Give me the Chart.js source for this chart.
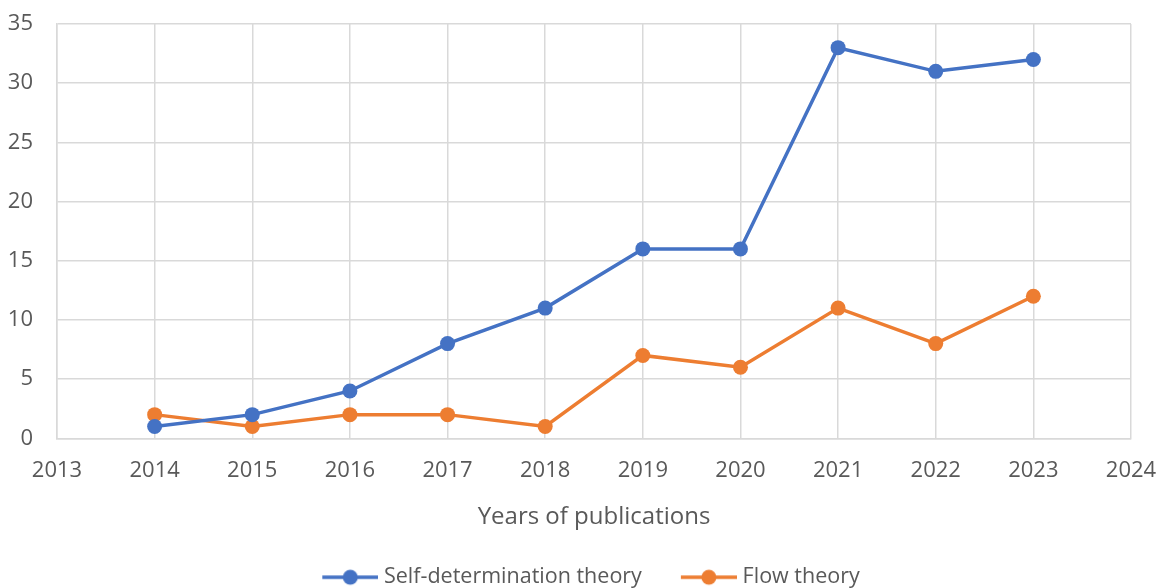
<!DOCTYPE html>
<html>
<head>
<meta charset="utf-8">
<script src="https://cdn.jsdelivr.net/npm/chart.js@4"></script>
<style>
  html, body { margin: 0; padding: 0; background: #fff; }
  #wrap { width: 1156px; height: 588px; position: relative; }
</style>
</head>
<body>
<div id="wrap"><canvas id="c"></canvas></div>
<script>
// Publications per year, two theories.
const YEARS = [2014, 2015, 2016, 2017, 2018, 2019, 2020, 2021, 2022, 2023];
const SDT = [1, 2, 4, 8, 11, 16, 16, 33, 31, 32];
const FLOW = [2, 1, 2, 2, 1, 7, 6, 11, 8, 12];
const X_MIN = 2013, X_MAX = 2024;
const Y_MAX = 35;

const BLUE = "#4472c4";
const ORANGE = "#ed7d31";
const GRID = "#d9d9d9";
const TEXT = "#595959";
const FONT = "'Open Sans', sans-serif";

// legend marker: blank gap on the left, then a short line with a dot.
// The image is a bit wider than its legend box so the line runs closer to the text.
const GAP = 33, LINE = 56, OVER = 10;
function marker(color) {
  const c = document.createElement("canvas");
  c.width = GAP + LINE + OVER; c.height = 18;
  const g = c.getContext("2d");
  const x0 = GAP + OVER;
  g.strokeStyle = color; g.lineWidth = 3.5;
  g.beginPath(); g.moveTo(x0, 9); g.lineTo(x0 + LINE, 9); g.stroke();
  g.fillStyle = color;
  g.beginPath(); g.arc(x0 + LINE / 2, 9, 7.5, 0, Math.PI * 2); g.fill();
  return c;
}

const series = (label, vals, color) => ({
  label,
  data: YEARS.map((x, i) => ({ x, y: vals[i] })),
  borderColor: color,
  backgroundColor: color,
  borderWidth: 3.5,
  pointRadius: 7.5,
  pointHoverRadius: 7.5,
  pointBorderWidth: 0,
  pointStyle: "circle",
  tension: 0,
});

new Chart(document.getElementById("c"), {
  type: "line",
  data: {
    datasets: [
      series("Self-determination theory", SDT, BLUE),
      series("Flow theory", FLOW, ORANGE),
    ],
  },
  options: {
    responsive: true,
    maintainAspectRatio: false,
    animation: false,
    layout: { padding: { left: 0, right: 12, top: 0, bottom: -10 } },
    plugins: {
      tooltip: { enabled: false },
      legend: {
        position: "bottom",
        labels: {
          color: TEXT,
          font: { family: FONT, size: 21.5 },
          usePointStyle: true,
          pointStyleWidth: GAP + LINE,
          boxHeight: 18,
          padding: 1,
          generateLabels: (chart) => chart.data.datasets.map((d, i) => ({
            text: d.label,
            fontColor: TEXT,
            pointStyle: marker(d.borderColor),
            datasetIndex: i,
            lineWidth: 0,
          })),
        },
      },
    },
    scales: {
      x: {
        type: "linear",
        min: X_MIN,
        max: X_MAX,
        afterFit: (s) => { s.paddingRight = 25; },
        ticks: { stepSize: 1, color: TEXT, font: { family: FONT, size: 22 }, callback: (v) => String(v), padding: 19 },
        grid: { color: GRID, lineWidth: 1.5, drawTicks: false },
        border: { color: GRID, width: 1.5 },
        title: { display: true, text: "Years of publications", color: TEXT, font: { family: FONT, size: 24 }, padding: { top: 0, bottom: 34 } },
      },
      y: {
        min: 0,
        max: Y_MAX,
        afterFit: (s) => { s.width = 57; s.paddingTop = 24; },
        ticks: { stepSize: 5, color: TEXT, font: { family: FONT, size: 22 }, padding: 24 },
        grid: { color: GRID, lineWidth: 1.5, drawTicks: false },
        border: { color: GRID, width: 1.5 },
      },
    },
  },
});
</script>
</body>
</html>
